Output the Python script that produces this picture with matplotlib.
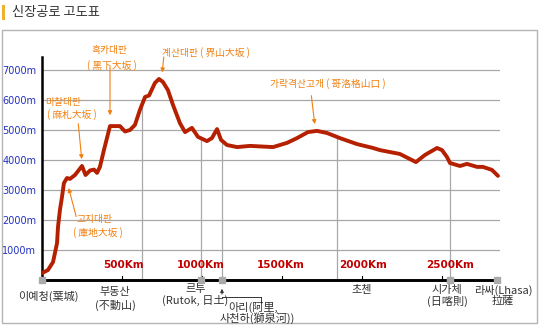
import numpy as np
import matplotlib
matplotlib.use("Agg")
import matplotlib.pyplot as plt
from matplotlib.transforms import offset_copy
from matplotlib.patches import Rectangle

KR = ["Noto Sans CJK KR", "DejaVu Sans"]

# road profile: distance from Yecheng (km) and altitude (m)
dist_km = [0, 37, 69, 94, 100, 112, 125, 137, 156, 175, 206, 231, 250, 272, 300, 325,
           344, 362, 387, 425, 450, 487, 519, 550, 581, 612, 644, 669, 706, 731, 756,
           787, 819, 862, 894, 937, 975, 1031, 1062, 1094, 1119, 1156, 1219, 1300,
           1444, 1531, 1594, 1662, 1719, 1781, 1862, 1969, 2069, 2112, 2237, 2337,
           2394, 2469, 2500, 2531, 2550, 2612, 2656, 2719, 2756, 2812, 2850]
elev_m = [230, 330, 600, 1230, 1770, 2330, 2770, 3230, 3400, 3370, 3500, 3670, 3800,
          3500, 3650, 3680, 3570, 3770, 4330, 5130, 5130, 5130, 4950, 5000, 5170, 5670,
          6100, 6150, 6570, 6700, 6600, 6330, 5830, 5230, 4930, 5070, 4770, 4630, 4730,
          5030, 4670, 4500, 4430, 4470, 4430, 4570, 4730, 4930, 4970, 4900, 4730, 4530,
          4400, 4330, 4200, 3930, 4170, 4400, 4330, 4100, 3900, 3800, 3870, 3770, 3770,
          3670, 3470]

y_ticks = [1000, 2000, 3000, 4000, 5000, 6000, 7000]
y_labels = ["1000m", "2000m", "3000m", "4000m", "5000m", "6000m", "7000m"]

km_ticks = [500, 1000, 1500, 2000, 2500]
km_labels = ["500Km", "1000Km", "1500Km", "2000Km", "2500Km"]
km_label_x = [512, 994, 1494, 2006, 2550]

# places marked with a grey square on the road axis
square_km = [0, 992, 1125, 2550, 2844]
# drop lines from the profile down to the road
drop_km = [625, 992, 1125, 1844, 2550]

# place names under the axis: (km, lines, y offsets in px below axis)
places = [
    (37, ["이예청(葉城)"], [16]),
    (456, ["부동산", "(不動山)"], [12, 25]),
    (960, ["르투", "(Rutok, 日土)"], [9, 20]),
    (2000, ["초첸"], [10]),
    (2531, ["시가체", "(日喀則)"], [10, 21]),
    (2881, ["라싸(Lhasa)", "拉薩"], [10, 21]),
]

# mountain passes: km, title lines, arrow tip/tail and text offsets (px from profile point)
passes = [
    (162, ["고지대판", "( 庫地大坂 )"], (0, -7), (9, -34), [(27, -41), (30, -54)]),
    (250, ["마찰대판", "( 麻札大坂 )"], (0, 4), (-4, 41), [(-19, 64), (-10, 51)]),
    (425, ["흑카대판", "( 黑下大坂 )"], (0, 8), (0, 54), [(0, 76), (2, 61)]),
    (750, ["계산대판 ( 界山大坂 )"], (0, 6), (2, 21), [(44, 29)]),
    (1719, ["가락격산고개 ( 哥洛格山口 )"], (-2, 4), (-4, 34), [(11, 47)]),
]

fig = plt.figure(figsize=(5.42, 3.25), dpi=100)

# page furniture: frame and title
bg = fig.add_axes([0, 0, 1, 1], zorder=-1)
bg.set_xlim(0, 542)
bg.set_ylim(325, 0)
bg.axis("off")
bg.add_patch(Rectangle((1.5, 29.5), 535, 293, fill=False, ec="#b4b4b4", lw=1.0))
bg.add_patch(Rectangle((2, 5), 3, 15, fc="#f0b030", ec="none"))
bg.text(12, 12.5, "신장공로 고도표", family=KR, fontsize=9.5, color="#333333", va="center")

ax = fig.add_axes([42 / 542, 45 / 325, 2860 * 0.16 / 542, 223 / 325])
ax.set_xlim(0, 2860)
ax.set_ylim(0, 7433)
ax.patch.set_alpha(0)
for s in ["top", "right", "bottom"]:
    ax.spines[s].set_visible(False)
ax.spines["left"].set_linewidth(1.8)
ax.set_xticks([])
ax.set_yticks(y_ticks)
ax.set_yticklabels(y_labels, color="#2030c0", fontsize=7)
ax.tick_params(axis="y", length=0, pad=4)
ax.grid(axis="y", color="#a8a8a8", lw=0.9)
ax.set_axisbelow(True)

# drop lines to the road axis
for k in drop_km:
    ax.plot([k, k], [0, np.interp(k, dist_km, elev_m)], color="#a8a8a8", lw=0.9, zorder=1)

# profile
ax.plot(dist_km, elev_m, color="#b52000", lw=2.8, solid_joinstyle="round",
        solid_capstyle="round", zorder=3)

# road axis with distance ticks
ax.plot([0, square_km[-1]], [0, 0], color="black", lw=2.1, clip_on=False, zorder=4,
        solid_capstyle="butt")
for k in km_ticks:
    ax.plot([k, k], [0, 130], color="black", lw=0.8, zorder=4)
for k, lab in zip(km_label_x, km_labels):
    ax.text(k, 500, lab, color="#c00000", fontsize=7.5, fontweight="bold",
            ha="center", va="center", zorder=5)
ax.plot(square_km, [0] * len(square_km), "s", color="#aaaaaa", ms=4.5, clip_on=False,
        zorder=5)

def px_off(dx, dy):
    return offset_copy(ax.transData, fig=fig, x=dx, y=dy, units="dots")

# place names
for k, lines, offs in places:
    for line, o in zip(lines, offs):
        ax.text(k, 0, line, transform=px_off(0, -o), family=KR, fontsize=8,
                color="#333333", ha="center", va="center", clip_on=False)

# Ari / Shiquanhe: arrow up to its square, then leader to the label
ax.annotate("", xy=(1125, 0), xycoords=px_off(0, -6), xytext=(1125, 0),
            textcoords=px_off(0, -17),
            arrowprops=dict(arrowstyle="-|>", color="#333333", lw=0.7, mutation_scale=5))
lead = [px_off(0, -17), px_off(39, -17), px_off(39, -23)]
for a, b in zip(lead[:-1], lead[1:]):
    p0 = a.transform((1125, 0))
    p1 = b.transform((1125, 0))
    fig.add_artist(plt.Line2D([p0[0] / 542, p1[0] / 542], [p0[1] / 325, p1[1] / 325],
                              color="#333333", lw=0.7))
for line, dx, o in [("아리(阿里,", 211, 27), ("사천하(獅泉河))", 215, 38)]:
    ax.text(1125, 0, line, transform=px_off(dx - 180, -o), family=KR, fontsize=8,
            color="#333333", ha="center", va="center", clip_on=False)

# pass annotations
orange = "#f08010"
for k, lines, tip, tail, txt in passes:
    e = np.interp(k, dist_km, elev_m)
    ax.annotate("", xy=(k, e), xycoords=px_off(*tip), xytext=(k, e),
                textcoords=px_off(tip[0] + tail[0], tip[1] + tail[1]),
                arrowprops=dict(arrowstyle="-|>", color=orange, lw=0.8, mutation_scale=6),
                zorder=6)
    for line, (dx, dy) in zip(lines, txt):
        ax.text(k, e, line, transform=px_off(dx, dy), family=KR, fontsize=7,
                color=orange, ha="center", va="center", clip_on=False, zorder=6)

fig.savefig("out.png", dpi=100)
